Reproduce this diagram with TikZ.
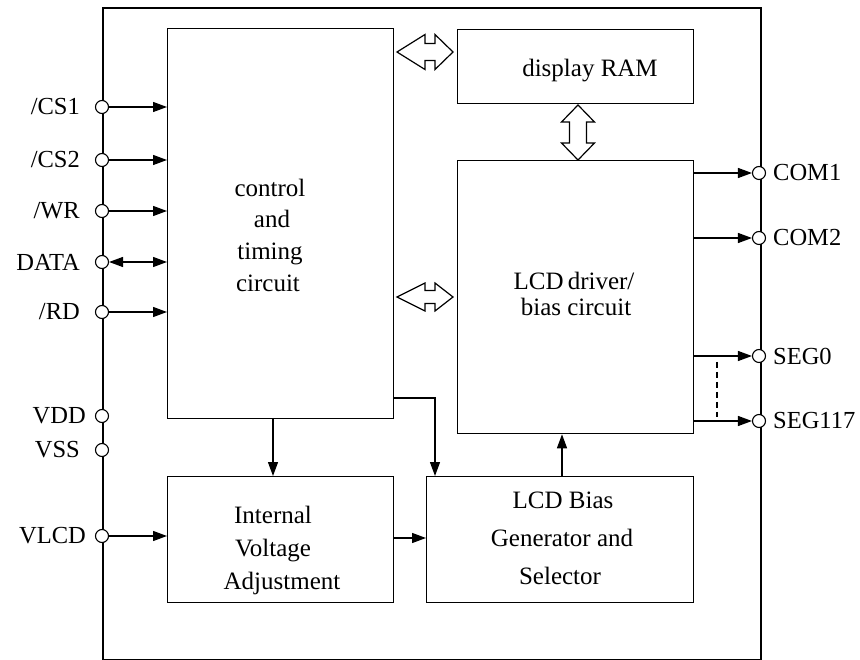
\documentclass[tikz,border=0pt]{standalone}
\usepackage{fontspec}
\setmainfont{Liberation Serif}
\usetikzlibrary{arrows.meta,calc}
\begin{document}
\begin{tikzpicture}[x=1pt,y=-1pt,
  box/.style={draw, line width=1.3pt, inner sep=0pt, anchor=north west},
  txt/.style={font=\fontsize{25}{30}\selectfont, inner sep=0pt, anchor=base},
  pinc/.style={draw, circle, fill=white, line width=1.1pt, minimum size=13pt, inner sep=0pt},
  lbl/.style={font=\fontsize{24.5}{30}\selectfont, inner sep=0pt},
  sig/.style={line width=1.3pt, -{Triangle[length=14pt,width=10pt]}},
  sigb/.style={line width=1.3pt, {Triangle[length=14pt,width=10pt]}-{Triangle[length=14pt,width=10pt]}},
  blk/.style={draw, line width=1.2pt, fill=white, line join=miter}]
\useasboundingbox (0,0) rectangle (860,660);
% frame
\node[box, line width=1.6pt, minimum width=658pt, minimum height=651.5pt] (frame) at (102,7) {};
% blocks
\node[box, minimum width=226pt, minimum height=390pt] (ctrl) at (167,28) {};
\node[box, minimum width=236pt, minimum height=74pt] (ram) at (457,29) {};
\node[box, minimum width=236pt, minimum height=273pt] (drv) at (457,160) {};
\node[box, minimum width=226pt, minimum height=126pt] (iva) at (167,476) {};
\node[box, minimum width=267pt, minimum height=126pt] (bias) at (426,476) {};
% texts
\node[txt] (c1) at (270,197) {control};
\node[txt] (c2) at (272,228) {and};
\node[txt] (c3) at (270,260) {timing};
\node[txt] (c4) at (268,292) {circuit};
\node[txt] (r1) at (590,77) {display RAM};
\node[txt] (d1) at (574,290) {LCD\,driver/};
\node[txt] (d2) at (576,316) {bias circuit};
\node[txt] (i1) at (273,523) {Internal};
\node[txt] (i2) at (273,556) {Voltage};
\node[txt] (i3) at (282,589) {Adjustment};
\node[txt] (b1) at (563,508) {LCD Bias};
\node[txt] (b2) at (562,546) {Generator and};
\node[txt] (b3) at (560,584) {Selector};
% left pins
\foreach \n/\y/\t/\lx in {cs1/107/{/CS1}/80, cs2/160/{/CS2}/80, wr/211/{/WR}/80, data/262/{DATA}/80, rd/312/{/RD}/80, vdd/416/{VDD}/86, vss/450/{VSS}/80, vlcd/536/{VLCD}/86}{
  \node[pinc] (p\n) at (102,\y) {};
  \node[lbl, anchor=east] (l\n) at (\lx,\y) {\t};
}
\foreach \n in {cs1,cs2,wr,rd}{
  \draw[sig] (p\n.east) -- (ctrl.west |- p\n);
}
\draw[sigb] (pdata.east) -- (ctrl.west |- pdata);
\draw[sig] (pvlcd.east) -- (iva.west |- pvlcd);
% right pins
\foreach \n/\y/\t in {com1/173/COM1, com2/238/COM2, seg0/356/SEG0, seg117/421/SEG117}{
  \node[pinc] (p\n) at (759,\y) {};
  \node[lbl, anchor=west] (l\n) at (773,\y) {\t};
  \draw[sig] (drv.east |- p\n) -- (p\n.west);
}
\coordinate (dtop) at (717,362);
\coordinate (dbot) at (717,417);
\draw[line width=1.1pt, dash pattern=on 6pt off 4pt] (dtop) -- (dbot);
% internal connections
\draw[sig] (273,418) -- (iva.north -| 273,0);
\coordinate (cb) at (435,398);
\draw[sig] (ctrl.east |- cb) -- (cb) -- (bias.north -| cb);
\draw[sig] (iva.east |- 0,538) -- (bias.west |- 0,538);
\draw[sig] (bias.north -| 562,0) -- (drv.south -| 562,0);
% block arrows
\draw[blk] (397,52) -- (425,34.5) -- (425,43.5) -- (435,43.5) -- (435,34.5) -- (453,52) -- (435,69.5) -- (435,60.5) -- (425,60.5) -- (425,69.5) -- cycle;
\draw[blk] (397,297) -- (425,283) -- (425,290.5) -- (435,290.5) -- (435,283) -- (453,297) -- (435,311) -- (435,303.5) -- (425,303.5) -- (425,311) -- cycle;
\draw[blk] (578,105) -- (594.5,122) -- (586.5,122) -- (586.5,143) -- (594.5,143) -- (578,160) -- (561.5,143) -- (569.5,143) -- (569.5,122) -- (561.5,122) -- cycle;
\end{tikzpicture}
\end{document}
